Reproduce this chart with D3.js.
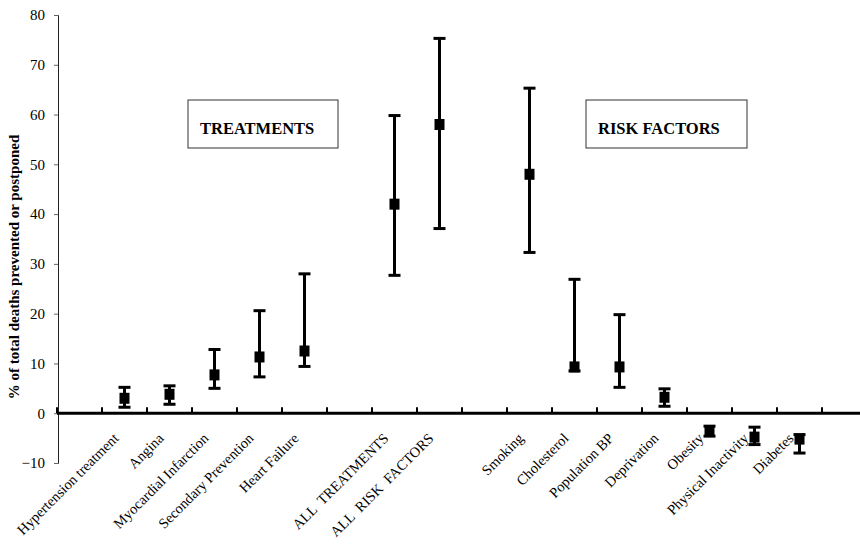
<!DOCTYPE html>
<html>
<head>
<meta charset="utf-8">
<script src="https://cdn.jsdelivr.net/npm/d3@7"></script>
<style>
  html, body { margin: 0; padding: 0; background: #fff; }
  svg { display: block; }
  text { font-family: "Liberation Serif", "Times New Roman", serif; fill: #000; }
</style>
</head>
<body>
<svg id="chart" width="860" height="545"></svg>
<script>
// ---- data ----
const categories = ["", "Hypertension treatment", "Angina", "Myocardial Infarction", "Secondary Prevention",
  "Heart Failure", "", "ALL  TREATMENTS", "ALL  RISK  FACTORS", "", "Smoking", "Cholesterol",
  "Population BP", "Deprivation", "Obesity", "Physical Inactivity", "Diabetes"];
const estimate = [null, 3.0, 3.8, 7.7, 11.3, 12.5, null, 42.0, 58.0, null, 48.0, 9.3, 9.3, 3.2, -3.5, -4.8, -5.2];
const lower    = [null, 1.2, 1.8, 5.0, 7.3, 9.4, null, 27.7, 37.1, null, 32.3, 8.5, 5.2, 1.4, -4.6, -6.3, -8.0];
const upper    = [null, 5.2, 5.5, 12.8, 20.6, 28.0, null, 59.8, 75.3, null, 65.3, 26.9, 19.8, 4.9, -2.6, -2.8, -4.3];
const yTicks = [-10, 0, 10, 20, 30, 40, 50, 60, 70, 80];
const groupLabels = ["TREATMENTS", "RISK FACTORS"];
const yTitle = "% of total deaths prevented or postponed";

// ---- layout ----
const serif = "'Liberation Serif', 'Times New Roman', serif";
const svg = d3.select("#chart");
const idx = categories.map((c, i) => i);
const x = d3.scaleBand().domain(idx).range([57, 822]).padding(0);
const y = d3.scaleLinear().domain([-10, 80]).range([463, 15]);

// y axis
const yAxis = svg.append("g").attr("transform", "translate(58,0)")
  .call(d3.axisLeft(y).tickValues(yTicks).tickSize(4).tickPadding(9).tickFormat(d3.format("d")));
yAxis.attr("font-family", null);
yAxis.select(".domain").attr("stroke", "#222").attr("stroke-width", 1);
yAxis.selectAll(".tick line").attr("stroke", "#666").attr("stroke-width", 1);
yAxis.selectAll(".tick text").style("font-family", serif).style("font-size", "15px");

// y title
svg.append("text")
  .attr("transform", `translate(19,267) rotate(-90)`)
  .attr("text-anchor", "middle")
  .style("font-family", serif).style("font-size", "15px").style("font-weight", "bold")
  .text(yTitle);

// zero axis with ticks
const zeroAxis = svg.append("g").attr("transform", `translate(0,${y(0)})`);
zeroAxis.append("line").attr("x1", 57).attr("x2", 860).attr("y1", 0).attr("y2", 0)
  .attr("stroke", "#000").attr("stroke-width", 3);
const boundaries = idx.map(i => x(i)).concat([x(idx[idx.length - 1]) + x.bandwidth()]);
zeroAxis.selectAll("line.tk").data(boundaries).join("line").attr("class", "tk")
  .attr("x1", d => d).attr("x2", d => d).attr("y1", 0).attr("y2", -6)
  .attr("stroke", "#000").attr("stroke-width", 2);

// category labels
svg.append("g").selectAll("text").data(idx.filter(i => categories[i] !== "")).join("text")
  .attr("transform", i => `translate(${x(i) + x.bandwidth() / 2 - 5},${y(0) + 26}) rotate(-45)`)
  .attr("text-anchor", "end")
  .style("font-family", serif).style("font-size", "14.5px")
  .style("white-space", "pre")
  .text(i => categories[i]);

// error bars
const pts = idx.filter(i => estimate[i] !== null);
const g = svg.append("g");
const cx = i => x(i) + x.bandwidth() / 2;
g.selectAll("line.stem").data(pts).join("line").attr("class", "stem")
  .attr("x1", cx).attr("x2", cx).attr("y1", i => y(lower[i])).attr("y2", i => y(upper[i]))
  .attr("stroke", "#000").attr("stroke-width", 3);
g.selectAll("line.capHi").data(pts).join("line").attr("class", "capHi")
  .attr("x1", i => cx(i) - 6).attr("x2", i => cx(i) + 6).attr("y1", i => y(upper[i])).attr("y2", i => y(upper[i]))
  .attr("stroke", "#000").attr("stroke-width", 3);
g.selectAll("line.capLo").data(pts).join("line").attr("class", "capLo")
  .attr("x1", i => cx(i) - 6).attr("x2", i => cx(i) + 6).attr("y1", i => y(lower[i])).attr("y2", i => y(lower[i]))
  .attr("stroke", "#000").attr("stroke-width", 3);
g.selectAll("rect.mk").data(pts).join("rect").attr("class", "mk")
  .attr("x", i => cx(i) - 5).attr("y", i => y(estimate[i]) - 5.5).attr("width", 10).attr("height", 11)
  .attr("fill", "#000");

// group boxes
const boxes = [
  { label: groupLabels[0], x0: 188, x1: 338 },
  { label: groupLabels[1], x0: 586, x1: 747 }
];
const bg = svg.append("g").selectAll("g").data(boxes).join("g");
bg.append("rect").attr("x", d => d.x0).attr("y", 100).attr("width", d => d.x1 - d.x0).attr("height", 48)
  .attr("fill", "#fff").attr("stroke", "#333").attr("stroke-width", 1);
bg.append("text").attr("x", d => d.x0 + 12).attr("y", 134)
  .attr("text-anchor", "start")
  .style("font-family", serif).style("font-size", "16.5px").style("font-weight", "bold")
  .text(d => d.label);
</script>
</body>
</html>
